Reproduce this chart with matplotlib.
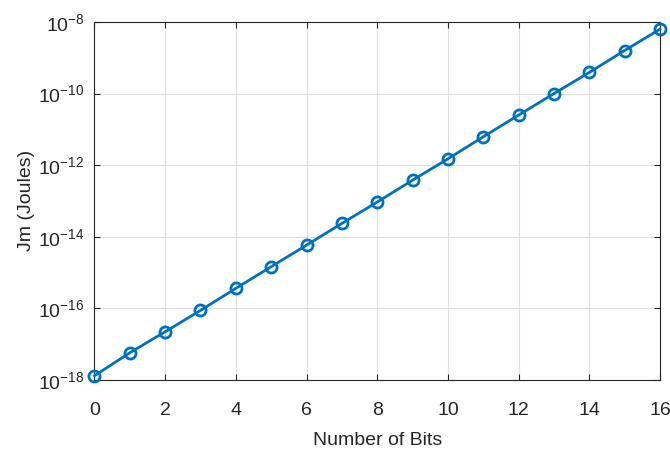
import matplotlib.pyplot as plt
import numpy as np

plt.rcParams['font.family'] = ['Liberation Sans', 'DejaVu Sans']
plt.rcParams['axes.unicode_minus'] = False

bits = np.arange(0, 17)
jm = [1.3e-18, 5.7e-18, 2.2e-17, 8.7e-17, 3.6e-16, 1.45e-15, 5.8e-15, 2.35e-14,
      9.3e-14, 3.8e-13, 1.5e-12, 6.2e-12, 2.5e-11, 1.0e-10, 3.9e-10, 1.6e-9, 6.3e-9]

fig = plt.figure(figsize=(6.7, 4.5), dpi=100)
ax = fig.add_axes([0.141, 0.156, 0.844, 0.795])

ax.semilogy(bits, jm, color='#0072BD', lw=2, marker='o', ms=8,
            mfc='none', mew=2, clip_on=False, zorder=3)

ax.set_xlim(0, 16)
ax.set_ylim(1e-18, 1e-8)
ax.set_xticks(np.arange(0, 17, 2))
ax.set_yticks([10.0**k for k in range(-18, -7, 2)])
ax.yaxis.set_minor_locator(plt.NullLocator())
ax.tick_params(direction='in', labelsize=14, colors='#262626', length=4, top=True, right=True)
ax.tick_params(axis='x', pad=16)
ax.tick_params(axis='y', pad=7)
ax.grid(True, color='#dfdfdf', lw=0.8)
ax.set_axisbelow(True)
for s in ax.spines.values():
    s.set_color('#262626')
    s.set_linewidth(0.8)

ax.set_xlabel('Number of Bits', fontsize=14, color='#262626', labelpad=9)
ax.set_ylabel('Jm (Joules)', fontsize=14, color='#262626', labelpad=2)

plt.savefig('out.png')
